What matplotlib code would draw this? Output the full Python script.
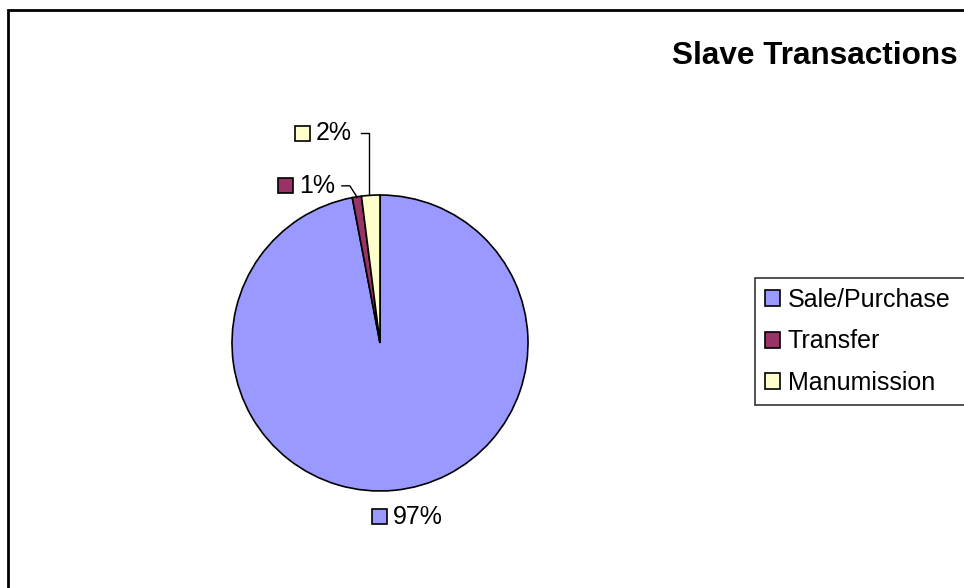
import matplotlib.pyplot as plt
from matplotlib.patches import Rectangle
import numpy as np

plt.rcParams['font.family'] = ['Liberation Sans', 'DejaVu Sans']

categories = ["Sale/Purchase", "Transfer", "Manumission"]
values = [97, 1, 2]
pct_labels = ["97%", "1%", "2%"]
colors = ["#9999FF", "#993366", "#FFFFCC"]

W, H = 964, 588
R = 148.0          # pie radius in px
cx, cy = 380, 343  # pie centre in px (from top-left)


def plot():
    fig = plt.figure(figsize=(W / 100, H / 100), dpi=100)
    ax = fig.add_axes([0, 0, 1, 1])
    ax.axis('off')

    wedges, _ = ax.pie(values, colors=colors, startangle=90, counterclock=False,
                       radius=1.0, wedgeprops=dict(edgecolor='black', linewidth=1.2))
    ax.set_xlim(-cx / R, (W - cx) / R)
    ax.set_ylim(-(H - cy) / R, cy / R)
    ax.set_aspect('equal')

    # chart border (top / left visible)
    fig.patches.append(Rectangle((8 / W, -0.1), 1.2, (H - 10) / H + 0.1,
                                 transform=fig.transFigure, fill=False,
                                 edgecolor='black', linewidth=2))

    fs = 18
    sq = 15 / R  # square key size in data units

    def label(text, color, x, y):
        # small colour key then the text
        ax.add_patch(Rectangle((x, y - sq / 2), sq, sq, facecolor=color,
                               edgecolor='black', linewidth=1.2))
        ax.text(x + sq + 6 / R, y, text, fontsize=fs, va='center', ha='left')

    # 97% below the pie
    w = wedges[0]
    mid = np.deg2rad((w.theta1 + w.theta2) / 2)
    label(pct_labels[0], colors[0], np.cos(mid) * 1.15 - 0.16, np.sin(mid) * 1.18)

    # small slices: labels pulled up with leader lines
    offs = [None, (-79, 11), (-76, 62)]
    ends = [None, 72, 74]
    for i in (1, 2):
        w = wedges[i]
        mid = np.deg2rad((w.theta1 + w.theta2) / 2)
        px, py = np.cos(mid), np.sin(mid)
        lx = px + offs[i][0] / R
        ly = py + offs[i][1] / R
        label(pct_labels[i], colors[i], lx, ly)
        ex = lx + ends[i] / R
        if i == 2:
            # vertical drop onto the slice edge
            px = ex
            py = np.sqrt(1 - ex ** 2)
        ax.plot([ex - 8 / R, ex, px], [ly, ly, py], color='black', linewidth=1)

    ax.text((958 - cx) / R, (cy - 56) / R, "Slave Transactions", fontsize=22.7,
            fontweight='bold', ha='right', va='center')

    # legend box runs off the right edge, like the original
    leg = ax.legend(wedges, categories, loc='upper left', mode='expand',
                    bbox_to_anchor=(755 / W, 1 - 406 / H, 300 / W, 128 / H),
                    bbox_transform=fig.transFigure,
                    fontsize=fs, frameon=True, fancybox=False, edgecolor='black',
                    handlelength=0.6, handleheight=0.6, handletextpad=0.3,
                    labelspacing=0.7, borderpad=0.4, borderaxespad=0)
    leg.get_frame().set_linewidth(1.2)

    fig.savefig("out.png", dpi=100)


if __name__ == "__main__":
    plot()
